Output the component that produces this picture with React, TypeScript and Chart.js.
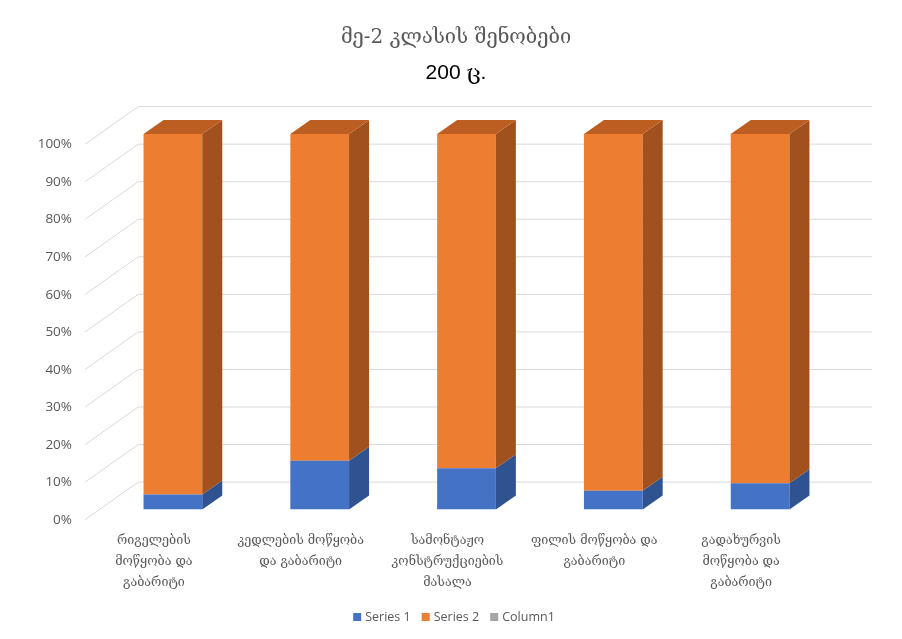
import { useEffect, useRef } from "react";
import { Chart, registerables } from "chart.js";

Chart.register(...registerables);

// Categories (multi-line axis labels)
const categories: string[][] = [
  ["რიგელების", "მოწყობა და", "გაბარიტი"],
  ["კედლების მოწყობა", "და გაბარიტი"],
  ["სამონტაჟო", "კონსტრუქციების", "მასალა"],
  ["ფილის მოწყობა და", "გაბარიტი"],
  ["გადახურვის", "მოწყობა და", "გაბარიტი"],
];

// Shares in percent (100% stacked)
const series1: number[] = [4, 13, 11, 5, 7];
const series2: number[] = [96, 87, 89, 95, 93];
const column1: (number | null)[] = [null, null, null, null, null];

const seriesNames: string[] = ["Series 1", "Series 2", "Column1"];
const titleMain = "მე-2 კლასის შენობები";
const titleSub = "200 ც.";

const FRONT = ["#4472c4", "#ed7d31", "#a5a5a5"];
const SIDE = ["#2e5390", "#a0511d", "#7c7c7c"];
const TOP = ["#3a63ad", "#bc5e22", "#8c8c8c"];

const TEXT_GRAY = "#595959";
const GRID = "#d9d9d9";
const GEO_FONT = "'DejaVu Serif', 'DejaVu Sans', serif";

// oblique projection: full floor depth and the plane the bar fronts sit on
const FLOOR_DX = 53;
const FLOOR_DY = -37.5;
const PLANE_DX = 14.3;
const PLANE_DY = -10.1;
const BAR_DX = 20;
const BAR_DY = -14;

const walls = {
  id: "walls",
  beforeDatasetsDraw(chart: any) {
    const { ctx, chartArea, scales } = chart;
    const y = scales.y;
    const frontX = chartArea.left - PLANE_DX;
    const backX = frontX + FLOOR_DX;
    const rightX = chartArea.right - PLANE_DX + FLOOR_DX;
    ctx.save();
    ctx.strokeStyle = GRID;
    ctx.lineWidth = 1;
    for (const t of y.ticks) {
      const p = y.getPixelForValue(t.value);
      const yf = p - PLANE_DY;
      const yb = yf + FLOOR_DY;
      ctx.beginPath();
      ctx.moveTo(frontX, yf);
      ctx.lineTo(backX, yb);
      ctx.lineTo(rightX, yb);
      ctx.stroke();
    }
    ctx.restore();
  },
  afterDatasetsDraw(chart: any) {
    const { ctx } = chart;
    const n = chart.data.labels.length;
    ctx.save();
    for (let d = 0; d < 2; d++) {
      const meta = chart.getDatasetMeta(d);
      for (let i = 0; i < n; i++) {
        const el: any = meta.data[i];
        if (!el) continue;
        const { x, y, base, width } = el.getProps(["x", "y", "base", "width"], true);
        const left = x - width / 2;
        const right = x + width / 2;
        const top = Math.min(y, base);
        const bottom = Math.max(y, base);
        // right side face
        ctx.fillStyle = SIDE[d];
        ctx.beginPath();
        ctx.moveTo(right, top);
        ctx.lineTo(right + BAR_DX, top + BAR_DY);
        ctx.lineTo(right + BAR_DX, bottom + BAR_DY);
        ctx.lineTo(right, bottom);
        ctx.closePath();
        ctx.fill();
        // top face on the uppermost segment
        if (d === 1) {
          ctx.fillStyle = TOP[d];
          ctx.beginPath();
          ctx.moveTo(left, top);
          ctx.lineTo(left + BAR_DX, top + BAR_DY);
          ctx.lineTo(right + BAR_DX, top + BAR_DY);
          ctx.lineTo(right, top);
          ctx.closePath();
          ctx.fill();
        }
      }
    }
    ctx.restore();
  },
};

const titleAndLegend = {
  id: "titleAndLegend",
  afterDraw(chart: any) {
    const { ctx } = chart;
    ctx.save();
    ctx.textAlign = "center";
    ctx.textBaseline = "middle";
    ctx.fillStyle = TEXT_GRAY;
    ctx.font = `20px ${GEO_FONT}`;
    ctx.fillText(titleMain, 456, 38);
    ctx.fillStyle = "#000000";
    ctx.font = `21px 'Liberation Sans', ${GEO_FONT}`;
    ctx.fillText(titleSub, 456, 73);

    // legend
    ctx.font = "12.5px 'Open Sans', sans-serif";
    const box = 8;
    const gap = 4;
    const itemGap = 11;
    const widths = seriesNames.map((s) => ctx.measureText(s).width);
    const total =
      widths.reduce((a: number, w: number) => a + box + gap + w, 0) + itemGap * (seriesNames.length - 1);
    let cx = 454 - total / 2;
    const cy = 617;
    ctx.textAlign = "left";
    seriesNames.forEach((s, i) => {
      ctx.fillStyle = FRONT[i];
      ctx.fillRect(cx, cy - box / 2, box, box);
      cx += box + gap;
      ctx.fillStyle = TEXT_GRAY;
      ctx.fillText(s, cx, cy + 0.5);
      cx += widths[i] + itemGap;
    });
    ctx.restore();
  },
};

export default function App() {
  const ref = useRef<HTMLCanvasElement | null>(null);

  useEffect(() => {
    const canvas = ref.current;
    if (!canvas) return;
    const chart = new Chart(canvas, {
      type: "bar",
      data: {
        labels: categories,
        datasets: [
          { label: seriesNames[0], data: series1, backgroundColor: FRONT[0] },
          { label: seriesNames[1], data: series2, backgroundColor: FRONT[1] },
          { label: seriesNames[2], data: column1, backgroundColor: FRONT[2] },
        ].map((d) => ({ ...d, borderWidth: 0, categoryPercentage: 1, barPercentage: 0.4 })),
      },
      options: {
        responsive: false,
        maintainAspectRatio: false,
        animation: false,
        layout: { padding: { top: 134, right: 68.5, bottom: 0, left: 0 } },
        plugins: {
          legend: { display: false },
          title: { display: false },
          tooltip: { enabled: false },
        },
        scales: {
          x: {
            stacked: true,
            grid: { display: false, drawTicks: false },
            border: { display: false },
            ticks: {
              color: TEXT_GRAY,
              font: { family: GEO_FONT, size: 12.5, lineHeight: 1.68 },
              padding: 21,
              labelOffset: -19,
              maxRotation: 0,
              minRotation: 0,
              autoSkip: false,
            },
            afterFit: (s: any) => {
              s.height = 129.5;
            },
          },
          y: {
            stacked: true,
            min: 0,
            max: 100,
            grid: { display: false, drawTicks: false },
            border: { display: false },
            ticks: {
              stepSize: 10,
              color: TEXT_GRAY,
              font: { family: "'Open Sans', sans-serif", size: 13.5 },
              padding: 27.5,
              labelOffset: 10.5,
              callback: (v: any) => `${v}%`,
            },
            afterFit: (s: any) => {
              s.width = 99.5;
            },
          },
        },
      },
      plugins: [walls, titleAndLegend],
    });
    return () => chart.destroy();
  }, []);

  return (
    <div style={{ position: "fixed", left: 0, top: 0, width: 902, height: 639, background: "#ffffff" }}>
      <canvas ref={ref} width={902} height={639} style={{ display: "block" }} />
    </div>
  );
}
